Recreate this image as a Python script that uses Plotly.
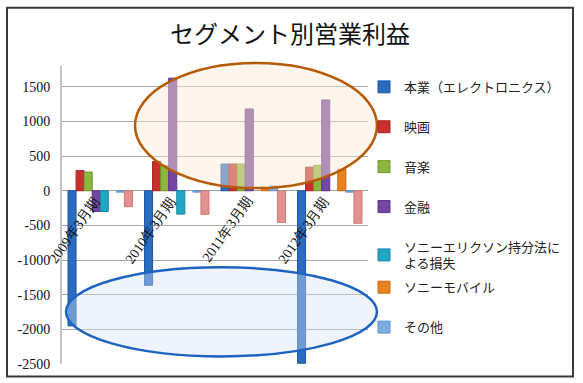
import plotly.graph_objects as go

# ---- data ----
periods = ["2009年3月期", "2010年3月期", "2011年3月期", "2012年3月期"]
electronics = [-1950, -1365, 385, -2490]
pictures = [290, 420, 385, 340]
music = [270, 362, 385, 367]
financial = [-300, 1625, 1180, 1310]
sony_ericsson = [-300, -337, None, None]
sony_mobile = [None, None, 40, 310]
others = [-20, -20, 68, -20]
corporate = [-230, -340, -457, -470]

series_names = ["本業（エレクトロニクス）", "映画", "音楽", "金融",
                "ソニーエリクソン持分法に<br>よる損失", "ソニーモバイル", "その他", "全社・消去"]
series_values = [electronics, pictures, music, financial, sony_ericsson, sony_mobile, others, corporate]
series_colors = ["#2A6DBE", "#C8302E", "#8DB63C", "#7446A0", "#22A6C3", "#E8841F", "#7FAEE2", "#E3938F"]
series_lines = ["#1D58A3", "#A52421", "#6F962A", "#5B3384", "#17879F", "#C66A0E", "#5E92CE", "#CC7A76"]
series_legend = ["legend", "legend", "legend", "legend", "legend", "legend2", "legend2", None]

tick_vals = [-2500, -2000, -1500, -1000, -500, 0, 500, 1000, 1500]
tick_text = ["-2500", "-2000", "-1500", "-1000", "-500", "0", "500", "1000", "1500"]

title_text = "セグメント別営業利益"

SERIF = "Liberation Serif, DejaVu Serif, serif"
SANS_JP = "Noto Sans CJK JP"

# ---- figure ----
fig = go.Figure()
for i, (name, vals, col, lc, lg) in enumerate(zip(series_names, series_values, series_colors,
                                                 series_lines, series_legend)):
    fig.add_trace(go.Bar(
        x=periods, y=vals, name=name,
        marker=dict(color=col, line=dict(color=lc, width=1)),
        legendgroup=f"g{i}",
        showlegend=lg is not None,
        legend=lg if lg is not None else "legend",
    ))

W, H = 583, 383
L, R = 62, 368
T, B = 66.1, 363.6
pw, ph = R - L, B - T


def px(x):
    return (x - L) / pw


def py(y):
    return (B - y) / ph


shapes = [
    # outer frame
    dict(type="rect", xref="paper", yref="paper", x0=px(7), x1=px(573), y0=py(376), y1=py(8),
         line=dict(color="#3a3a3a", width=2), layer="below"),
    # orange ellipse
    dict(type="circle", xref="paper", yref="paper", x0=px(135), x1=px(377), y0=py(188), y1=py(63),
         line=dict(color="#B65A05", width=2.5), fillcolor="rgba(252,232,212,0.45)", layer="above"),
    # blue ellipse
    dict(type="circle", xref="paper", yref="paper", x0=px(66), x1=px(377), y0=py(356), y1=py(267),
         line=dict(color="#1F63C0", width=2.5), fillcolor="rgba(214,226,244,0.40)", layer="above"),
]

annotations = []
for p in periods:
    annotations.append(dict(
        x=p, y=0, xref="x", yref="y", text=p, showarrow=False,
        textangle=-55, xanchor="right", yanchor="top", xshift=5, yshift=-1,
        font=dict(family=SERIF, size=14, color="#111"),
    ))

legend_common = dict(
    x=px(376), xanchor="left", yanchor="top",
    traceorder="grouped", tracegroupgap=20, indentation=-12,
    font=dict(family=SANS_JP, size=13, color="#222"),
    bgcolor="rgba(0,0,0,0)", itemwidth=30,
)

fig.update_layout(
    width=W, height=H,
    margin=dict(l=L, r=W - R, t=T, b=H - B, pad=0),
    paper_bgcolor="white", plot_bgcolor="white",
    barmode="group", bargap=0.157, bargroupgap=0,
    title=dict(text=title_text, x=290 / W, xanchor="center", y=1 - 35 / H, yanchor="middle",
               font=dict(family=SANS_JP, size=24, color="#111")),
    xaxis=dict(showticklabels=False, showgrid=False, showline=False, zeroline=False,
               range=[-0.5, 3.5], ticks=""),
    yaxis=dict(range=[-2500, 1800], tickvals=tick_vals, ticktext=tick_text,
               showgrid=True, gridcolor="#a8a8a8", gridwidth=1,
               zeroline=True, zerolinecolor="#a0a0a0", zerolinewidth=1,
               showline=True, linecolor="#c4c4c4", linewidth=2, ticks="",
               ticklabelstandoff=7,
               tickfont=dict(family=SERIF, size=14, color="#111")),
    legend=dict(y=py(72), **legend_common),
    legend2=dict(y=py(272), **legend_common),
    shapes=shapes,
    annotations=annotations,
    showlegend=True,
)

fig.write_html("out.html", config={"displayModeBar": False},
               post_script="document.body.style.margin='0px';")
